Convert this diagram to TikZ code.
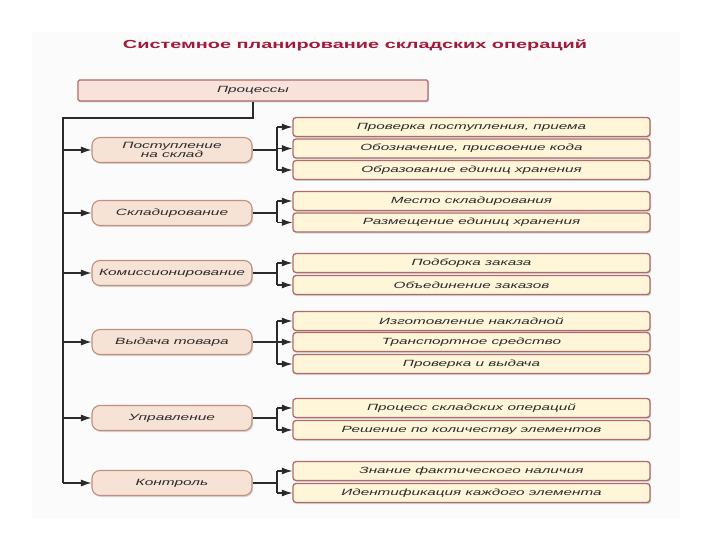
\documentclass[tikz,border=0pt]{standalone}
\usepackage{fontspec}
\setmainfont{Liberation Sans}[FakeStretch=1.7]
\usetikzlibrary{arrows.meta,shadows}
\definecolor{ttl}{HTML}{A11A3A}
\definecolor{txt}{HTML}{2A2A2A}
\definecolor{lfill}{HTML}{F7E3D5}
\definecolor{ldraw}{HTML}{BF8F80}
\definecolor{rfill}{HTML}{FFF5D8}
\definecolor{rdraw}{HTML}{B06A6A}
\definecolor{pfill}{HTML}{F8E2DA}
\definecolor{ln}{HTML}{2A2A2A}
\tikzset{
  sh/.style={drop shadow={opacity=0.3,shadow xshift=1.2pt,shadow yshift=-1.5pt}},
  procbox/.style={draw=rdraw,fill=pfill,line width=1.3pt,rounded corners=1.5pt,minimum width=350pt,minimum height=21pt,inner sep=0pt,font=\fontsize{9}{10}\selectfont\itshape,text=txt,sh},
  lbox/.style={draw=ldraw,fill=lfill,line width=1.1pt,rounded corners=8pt,minimum width=160pt,minimum height=25pt,inner sep=0pt,align=center,font=\fontsize{9.1}{8.8}\selectfont\itshape,text=txt,sh},
  rbox/.style={draw=rdraw,fill=rfill,line width=1.3pt,rounded corners=3pt,minimum width=357pt,minimum height=19pt,inner sep=0pt,font=\fontsize{9}{10}\selectfont\itshape,text=txt,sh},
  conn/.style={draw=ln,line width=1.1pt},
  trunk/.style={draw=ln,line width=1.6pt},
  arr/.style={conn,-{Latex[length=10.5pt,width=7pt]}},
}
\begin{document}
\begin{tikzpicture}[x=1pt,y=-1pt]
\useasboundingbox (0,0) rectangle (720,540);
\fill[white] (0,0) rectangle (720,540);
\fill[black!1.5] (32,32) rectangle (680,519);
\node[font=\fontsize{11.7}{13}\selectfont\bfseries,text=ttl] (title) at (355,45) {Системное планирование складских операций};
\node[procbox] (proc) at (253,90.5) {Процессы};
% left boxes
\node[lbox] (L1) at (172,150) {Поступление\\на склад};
\node[lbox] (L2) at (172,213) {Складирование};
\node[lbox] (L3) at (172,273) {Комиссионирование};
\node[lbox] (L4) at (172,342) {Выдача товара};
\node[lbox] (L5) at (172,418) {Управление};
\node[lbox] (L6) at (172,483) {Контроль};
% right boxes
\node[rbox] (R11) at (471.5,127) {Проверка поступления, приема};
\node[rbox] (R12) at (471.5,148.5) {Обозначение, присвоение кода};
\node[rbox] (R13) at (471.5,170) {Образование единиц хранения};
\node[rbox] (R21) at (471.5,201) {Место складирования};
\node[rbox] (R22) at (471.5,222.5) {Размещение единиц хранения};
\node[rbox] (R31) at (471.5,263) {Подборка заказа};
\node[rbox] (R32) at (471.5,285) {Объединение заказов};
\node[rbox] (R41) at (471.5,321) {Изготовление накладной};
\node[rbox] (R42) at (471.5,342) {Транспортное средство};
\node[rbox] (R43) at (471.5,364) {Проверка и выдача};
\node[rbox] (R51) at (471.5,408) {Процесс складских операций};
\node[rbox] (R52) at (471.5,430) {Решение по количеству элементов};
\node[rbox] (R61) at (471.5,471) {Знание фактического наличия};
\node[rbox] (R62) at (471.5,493) {Идентификация каждого элемента};
% trunk
\coordinate (t0) at (63,118);
\coordinate (t1) at (63,483);
\coordinate (bx) at (277,0);
\draw[trunk] (proc.south) |- (t0) -- (t1);
\foreach \L in {L1,L2,L3,L4,L5,L6}{
  \draw[arr] (\L.west -| t0) -- (\L.west);
}
% groups
\foreach \L/\A/\B/\C in {L1/R11/R13/{R11,R12,R13},L2/R21/R22/{R21,R22},L3/R31/R32/{R31,R32},L4/R41/R43/{R41,R42,R43},L5/R51/R52/{R51,R52},L6/R61/R62/{R61,R62}}{
  \draw[conn] (\L.east) -- (\L.east -| bx);
  \draw[trunk] (\A.west -| bx) -- (\B.west -| bx);
  \foreach \R in \C {\draw[arr] (\R.west -| bx) -- (\R.west);}
}
\end{tikzpicture}
\end{document}
